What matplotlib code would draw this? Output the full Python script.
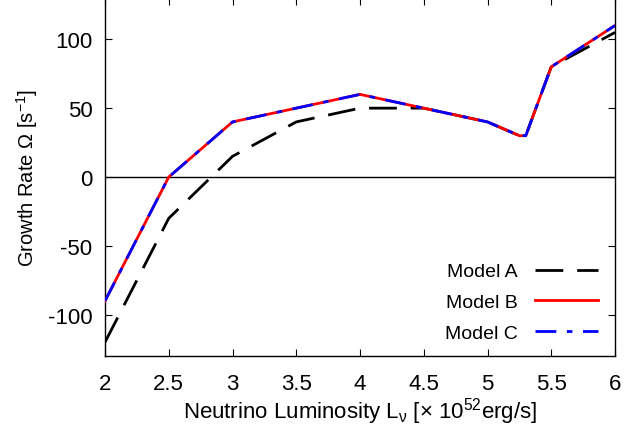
import matplotlib
matplotlib.use("Agg")
import matplotlib.pyplot as plt

plt.rcParams['font.family'] = ['Liberation Sans', 'DejaVu Sans']
plt.rcParams['mathtext.fontset'] = 'custom'
plt.rcParams['mathtext.rm'] = 'Liberation Sans'
plt.rcParams['mathtext.it'] = 'Liberation Sans'
plt.rcParams['mathtext.default'] = 'regular'
plt.rcParams['axes.unicode_minus'] = False

x_a = [2.0, 2.5, 3.0, 3.5, 4.0, 4.5, 5.0, 5.25, 5.3, 5.5, 6.0]
y_a = [-120, -30, 15, 40, 50, 50, 40, 30, 30, 80, 105]
x_b = [2.0, 2.5, 3.0, 3.5, 4.0, 4.5, 5.0, 5.25, 5.3, 5.5, 6.0]
y_b = [-90, 0, 40, 50, 60, 50, 40, 30, 30, 80, 110]
x_c = x_b
y_c = y_b
labels = ['Model A', 'Model B', 'Model C']
xticks = [2, 2.5, 3, 3.5, 4, 4.5, 5, 5.5, 6]
xticklabels = ['2', '2.5', '3', '3.5', '4', '4.5', '5', '5.5', '6']
yticks = [-100, -50, 0, 50, 100]
yticklabels = ['-100', '-50', '0', '50', '100']

fig = plt.figure(figsize=(6.24, 4.27), dpi=100)
ax = fig.add_axes([105/624, 1 - 357/427, 510/624, 358/427])
ax.axhline(0, color='black', lw=1.0, zorder=1)
ax.plot(x_a, y_a, color='black', lw=2.0, dashes=(10, 5), label=labels[0], zorder=2)
ax.plot(x_b, y_b, color='red', lw=2.0, label=labels[1], zorder=3)
ax.plot(x_c, y_c, color='blue', lw=2.0, dashes=(7.5, 3.8, 2.0, 3.8), label=labels[2], zorder=4)
ax.set_xlim(2, 6)
ax.set_ylim(-130, 130)
ax.set_xticks(xticks)
ax.set_xticklabels(xticklabels)
ax.set_yticks(yticks)
ax.set_yticklabels(yticklabels)
ax.tick_params(direction='in', top=True, right=True, length=5, width=0.8, labelsize=16)
ax.tick_params(axis='x', pad=12)
ax.tick_params(axis='y', pad=9)
for s in ax.spines.values():
    s.set_linewidth(1.0)
ax.set_xlabel(r'Neutrino Luminosity L$_{\nu}$ [$\times$ 10$^{52}$erg/s]', fontsize=16, labelpad=1)
ax.set_ylabel(r'Growth Rate $\Omega$ [s$^{-1}$]', fontsize=14.5, labelpad=6)
leg = ax.legend(loc='lower right', frameon=False, markerfirst=False, fontsize=14,
                handlelength=3.2, handletextpad=0.9, labelspacing=0.68,
                bbox_to_anchor=(1.0, -0.01))
fig.savefig('out.png', dpi=100)
